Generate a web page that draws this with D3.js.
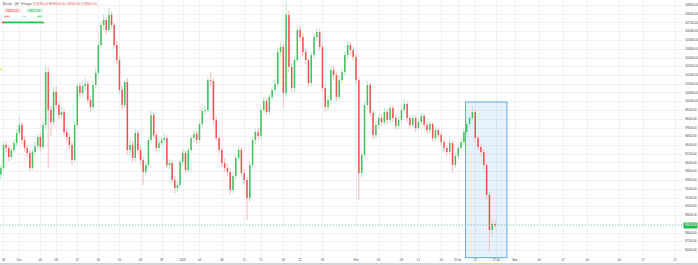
<!DOCTYPE html>
<html>
<head>
<meta charset="utf-8">
<script src="https://cdn.jsdelivr.net/npm/d3@7"></script>
<style>
html, body { margin: 0; padding: 0; background: #fff; }
svg { display: block; font-family: "Liberation Sans", Arial, sans-serif; }
</style>
</head>
<body>
<svg id="canvas" width="698" height="265"></svg>
<script>
// 12h bars, first one starts here
let startTime = '2024-11-27T12:00:00Z'
let firstOpen = 93300

let closes = [93900,96000,95730,94900,95540,96180,97100,97830,96460,95730,
  95270,93900,95360,95910,96730,95820,97830,102670,99200,98100,
  100850,99660,98740,99020,97190,96730,96000,94630,97830,101390,
  100750,101390,101580,100110,99470,101490,102580,105140,106970,107430,
  106510,107890,106970,105140,103770,101030,99660,101760,95540,96000,
  94810,97100,95540,94630,93530,94170,96460,98740,96910,95730,
  96180,96460,96640,94170,94350,92800,92070,92340,94450,95270,
  93710,95540,96640,97010,96460,97920,99110,99200,101940,101850,
  98290,96640,95540,94350,93900,93530,91890,93170,94810,95540,
  93440,92800,91150,94170,96460,97190,96820,99200,100020,99020,
  100390,101030,101580,104500,104960,100750,107890,103130,101210,103770,
  106510,105870,104500,103770,101670,104230,105870,106330,104960,101210,
  99470,100110,102860,102400,100390,101940,102670,104230,105140,104690,
  104050,101940,93440,95090,99660,101490,98930,96910,97830,98470,
  98100,99020,98290,99380,98470,97740,98290,99200,99750,98470,
  97830,98470,97550,98100,98650,97830,97370,97920,96640,97370,
  96910,96270,95730,95360,96180,94170,95000,95730,96270,97190,
  97920,98470,99020,96640,95820,95360,94170,91430,88230,88780,
  88650]

let highs = [94200,96300,96400,96000,95800,96500,97400,98560,98100,96800,
  96000,95500,95600,96300,97000,97100,98100,103300,103100,99600,
  101300,101400,100000,99500,99300,97600,97100,96300,98100,101700,
  101800,101900,102100,101900,100500,101800,103000,105500,107300,107900,
  107700,108530,108200,107200,105500,104100,101400,102000,102130,96600,
  96400,97500,97400,95900,94900,94500,96700,99100,99000,97200,
  96500,96800,97100,96900,94700,94600,93200,92700,94700,95600,
  95500,95800,96900,97400,97300,98200,99400,99600,102200,102670,
  102100,98600,96900,95800,94800,94300,93800,93500,95100,95900,
  95800,93800,93100,94500,96800,97500,97500,99500,100400,100300,
  100700,101400,102000,104900,105400,105300,109070,108300,103500,104100,
  106800,106900,106200,104800,104000,104500,106200,106700,106600,105300,
  101500,100500,103200,103300,102700,102300,103000,104600,105500,105400,
  105000,104300,102200,95400,100000,101900,101700,99200,98200,98800,
  98900,99400,99300,99700,99600,98800,98600,99500,100200,100000,
  98700,98800,98700,98400,99000,98900,98100,98200,98100,97700,
  97600,97200,96500,96000,96500,96400,95300,96000,96600,97500,
  98200,98800,99570,99300,96900,96100,95600,94400,91700,89200,
  89100]

let lows = [92900,93700,95300,94500,94600,95300,95900,96900,96100,95400,
  94900,93600,93700,95000,95600,95400,95600,97500,93900,96800,
  97800,99300,98300,98400,96900,96200,95600,94170,94400,97600,
  100300,100400,101000,99800,99000,99200,101200,102300,104800,106500,
  106100,106300,106600,104800,103400,100700,99200,99400,95100,95000,
  94400,94500,95200,94200,92340,93200,93900,96200,96600,95400,
  95300,95900,96200,93900,93800,92500,91600,91700,92100,94100,
  93400,93500,95300,96300,96100,96200,97700,98800,99000,101400,
  97900,96300,95200,94000,93500,93100,91500,91600,92900,94500,
  93100,92400,89140,90800,93900,96100,96400,96500,98900,98700,
  98800,100100,100700,101300,104100,99470,100400,102700,100800,100700,
  103500,105500,104100,103400,101300,101400,103900,105500,104600,100900,
  99000,99100,99800,102000,100000,100100,101600,102400,103900,104300,
  103700,101600,90970,93000,94800,99300,98600,96500,96600,97500,
  97700,97800,97900,98000,98100,97400,97400,98000,98900,98100,
  97500,97600,97200,97300,97800,97500,97000,97100,96300,96400,
  96600,95900,95400,95000,95100,93440,93900,94700,95500,96000,
  96900,97600,98200,96300,95500,95000,93800,91000,86220,87600,
  88300]

let priceTicks = [86400,87200,88000,88800,89600,90400,91200,92000,92800,93600,
  94400,95200,96000,96800,97600,98400,99200,100000,100800,101600,
  102400,103200,104000,104800,105600,106400,107200,108000,108800]

let timeTickDates = ['2024-11-28','2024-12-01','2024-12-05','2024-12-08','2024-12-12','2024-12-16',
  '2024-12-20','2024-12-24','2024-12-28','2025-01-01','2025-01-04','2025-01-08','2025-01-12',
  '2025-01-15','2025-01-19','2025-01-22','2025-01-26','2025-02-01','2025-02-05','2025-02-09',
  '2025-02-12','2025-02-16','2025-02-18T21:00','2025-02-22','2025-02-25T17:00','2025-03-01',
  '2025-03-04','2025-03-07','2025-03-10','2025-03-14','2025-03-17','2025-03-21']
let timeTickLabels = ['28','Dec','05','08','12','16','20','24','28','2025','04','08','12',
  '15','19','22','26','Feb','05','09','12','16','21:00','22','17:00','Mar',
  '04','07','10','14','17','21']

let lastPrice = 88650
let bidAsk = ['88626.00', '88672.30']
let zoneTimes = ['2025-02-20T07:00:00Z', '2025-02-27T14:00:00Z']
let zonePrices = [99930, 85700]
let markerPrice = 102950

let canvas = d3.select('#canvas')
let width = 698
let plotRight = 683
let plotBottom = 257

let utc = (s) => new Date(s.length == 10 ? s + 'T00:00:00Z' : (s.endsWith('Z') ? s : s + ':00Z'))

// the bars are not spaced evenly over the months, so the time scale is piecewise
let xScale = d3.scaleUtc()
  .domain([utc('2024-12-01'), utc('2025-01-01'), utc('2025-02-01'), utc('2025-03-01'), utc('2025-03-21')])
  .range([19.3, 182.7, 356, 515, 675])

let yScale = d3.scaleLinear()
  .domain([86400, 108800])
  .range([250, 5])

let t0 = utc(startTime).getTime()
let bars = closes.map((c, i) => {
  return {
    t: new Date(t0 + i * 12 * 3600 * 1000),
    o: i == 0 ? firstOpen : closes[i - 1],
    h: highs[i],
    l: lows[i],
    c: c
  }
})

// ************ grid ************
let grid = canvas.append('g')
grid.selectAll('line.h')
  .data(priceTicks)
  .enter()
  .append('line')
  .attr('x1', 0).attr('x2', plotRight)
  .attr('y1', (p) => Math.round(yScale(p)) + 0.5)
  .attr('y2', (p) => Math.round(yScale(p)) + 0.5)
  .attr('stroke', '#eff1f4')

grid.selectAll('line.v')
  .data(timeTickDates)
  .enter()
  .append('line')
  .attr('x1', (d) => Math.round(xScale(utc(d))) + 0.5)
  .attr('x2', (d) => Math.round(xScale(utc(d))) + 0.5)
  .attr('y1', 0).attr('y2', plotBottom)
  .attr('stroke', '#eff1f4')

// ************ highlighted zone ************
canvas.append('rect')
  .attr('x', xScale(utc(zoneTimes[0])))
  .attr('y', yScale(zonePrices[0]))
  .attr('width', xScale(utc(zoneTimes[1])) - xScale(utc(zoneTimes[0])))
  .attr('height', yScale(zonePrices[1]) - yScale(zonePrices[0]))
  .attr('fill', 'rgba(66,150,240,0.12)')
  .attr('stroke', '#5ea8f2')
  .attr('stroke-width', 1)

// ************ candles ************
let upColor = '#45c060'
let downColor = '#ef5350'
let upWick = '#c3eacb'
let downWick = '#f7c6c6'

let candle = canvas.selectAll('g.candle')
  .data(bars)
  .enter()
  .append('g')
  .attr('transform', (b) => 'translate(' + xScale(b.t) + ',0)')

candle.append('line')
  .attr('x1', 0).attr('x2', 0)
  .attr('y1', (b) => yScale(b.h))
  .attr('y2', (b) => yScale(b.l))
  .attr('stroke', (b) => b.c >= b.o ? upWick : downWick)
  .attr('stroke-width', 1.2)

candle.append('rect')
  .attr('x', -0.75)
  .attr('width', 1.5)
  .attr('y', (b) => yScale(Math.max(b.o, b.c)))
  .attr('height', (b) => Math.max(0.8, Math.abs(yScale(b.o) - yScale(b.c))))
  .attr('fill', (b) => b.c >= b.o ? upColor : downColor)

// small indicator mark on the left edge
canvas.append('line')
  .attr('x1', 0).attr('x2', 2)
  .attr('y1', yScale(markerPrice)).attr('y2', yScale(markerPrice))
  .attr('stroke', '#d8d800')
  .attr('stroke-width', 1.2)

// ************ current price line ************
canvas.append('line')
  .attr('x1', 0).attr('x2', plotRight)
  .attr('y1', yScale(lastPrice)).attr('y2', yScale(lastPrice))
  .attr('stroke', '#6fd08a')
  .attr('stroke-width', 0.8)
  .attr('stroke-dasharray', '1,2')

// ************ price axis ************
// the tick right under the current price label is covered by it
let visibleTicks = priceTicks.filter((p) => Math.abs(yScale(p) - yScale(lastPrice)) > 4)
canvas.append('g').selectAll('text')
  .data(visibleTicks)
  .enter()
  .append('text')
  .attr('x', 685)
  .attr('y', (p) => yScale(p) + 1)
  .style('font-size', '2.8px')
  .attr('fill', '#444')
  .text((p) => d3.format('.2f')(p))

canvas.append('rect')
  .attr('x', 683.5)
  .attr('y', yScale(lastPrice) - 3)
  .attr('width', 14)
  .attr('height', 6)
  .attr('rx', 0.6)
  .attr('fill', '#22b94f')
canvas.append('text')
  .attr('x', 685)
  .attr('y', yScale(lastPrice) + 1)
  .style('font-size', '2.8px')
  .attr('fill', '#fff')
  .text(d3.format('.2f')(lastPrice))

// ************ time axis ************
canvas.append('g').selectAll('text')
  .data(timeTickDates)
  .enter()
  .append('text')
  .attr('x', (d) => xScale(utc(d)))
  .attr('y', 261)
  .attr('text-anchor', 'middle')
  .style('font-size', '2.9px')
  .attr('fill', '#444')
  .text((d, i) => timeTickLabels[i])

canvas.append('line')
  .attr('x1', 0).attr('x2', width)
  .attr('y1', 264).attr('y2', 264)
  .attr('stroke', '#a9acb2')
  .attr('stroke-width', 1.2)

// ************ legend ************
let last = bars[bars.length - 1]
let fmt = d3.format('.2f')
let title = canvas.append('text')
  .attr('x', 3)
  .attr('y', 5)
  .style('font-size', '3px')
  .attr('fill', '#555')
title.append('tspan').text('Bitcoin · 4H · Fintegio  ')
let ohlc = [['O', last.o], ['H', last.h], ['L', last.l], ['C', last.c]]
ohlc.forEach((p) => {
  title.append('tspan').attr('fill', '#555').text(' ' + p[0] + ' ')
  title.append('tspan').attr('fill', '#ef5350').text(fmt(p[1]))
})

let box = canvas.append('g').attr('transform', 'translate(3,7)')
box.append('rect').attr('width', 41).attr('height', 12).attr('fill', '#fff').attr('stroke', '#eceff2').attr('stroke-width', 0.4)
box.append('rect').attr('x', 1).attr('y', 1.5).attr('width', 17).attr('height', 4).attr('rx', 0.6).attr('fill', '#fde4e4')
box.append('text').attr('x', 9.5).attr('y', 4.6).attr('text-anchor', 'middle').style('font-size', '2.8px').attr('fill', '#ef4444').text(bidAsk[0])
box.append('rect').attr('x', 23).attr('y', 1.5).attr('width', 17).attr('height', 4).attr('rx', 0.6).attr('fill', '#dcf5e3')
box.append('text').attr('x', 31.5).attr('y', 4.6).attr('text-anchor', 'middle').style('font-size', '2.8px').attr('fill', '#22a54f').text(bidAsk[1])
box.append('rect').attr('x', 1).attr('y', 7.5).attr('width', 6).attr('height', 3.5).attr('rx', 0.5).attr('fill', '#fde4e4')
box.append('text').attr('x', 4).attr('y', 10.1).attr('text-anchor', 'middle').style('font-size', '2.4px').attr('fill', '#ef4444').text('SELL')
box.append('text').attr('x', 20.5).attr('y', 10.1).attr('text-anchor', 'middle').style('font-size', '2.4px').attr('fill', '#777').text('4.60')
box.append('rect').attr('x', 34).attr('y', 7.5).attr('width', 6).attr('height', 3.5).attr('rx', 0.5).attr('fill', '#dcf5e3')
box.append('text').attr('x', 37).attr('y', 10.1).attr('text-anchor', 'middle').style('font-size', '2.4px').attr('fill', '#22a54f').text('BUY')

canvas.append('rect').attr('x', 2).attr('y', 21.6).attr('width', 2).attr('height', 1.7).attr('fill', '#ef4444')
canvas.append('rect').attr('x', 4).attr('y', 21.6).attr('width', 40).attr('height', 1.7).attr('fill', '#1fbf3a')
</script>
</body>
</html>
